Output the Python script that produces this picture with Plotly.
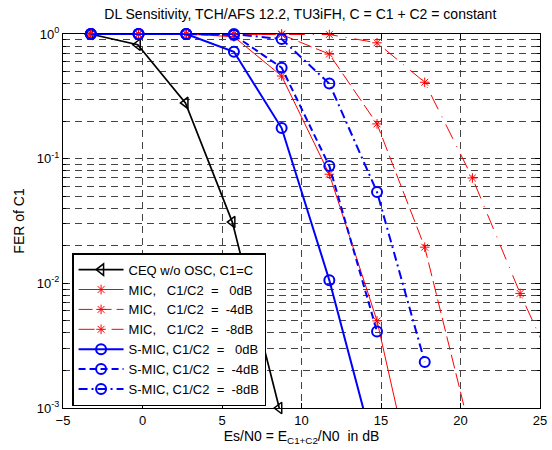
import plotly.graph_objects as go

# ---- data ----
es_n0 = [-3.25, -0.25, 2.75, 5.75, 8.75, 11.75, 14.75, 17.75, 20.75, 23.75, 26.75]
es_n0_ceq = [-3.3, -0.3, 2.7, 5.65, 8.6]

fer_ceq = [1.0, 0.82, 0.28, 0.031, 0.001]
fer_mic_0 = [1.0, 1.0, 1.0, 0.95, 0.46, 0.075, 0.005, 1.0e-4]
fer_mic_4 = [1.0, 1.0, 1.0, 1.0, 0.99, 0.69, 0.19, 0.0195, 5.5e-4]
fer_mic_8 = [1.0, 1.0, 1.0, 1.0, 1.0, 0.99, 0.85, 0.41, 0.07, 0.0083, 1.2e-3]
fer_smic_0 = [1.0, 1.0, 1.0, 0.72, 0.176, 0.0106, 3.8e-4]
fer_smic_4 = [1.0, 1.0, 1.0, 0.98, 0.537, 0.0874, 0.0041]
fer_smic_8 = [1.0, 1.0, 1.0, 1.0, 0.91, 0.40, 0.054, 0.00234]

names = [
    "CEQ w/o OSC, C1=C",
    "MIC,   C1/C2  =   0dB",
    "MIC,   C1/C2  =  -4dB",
    "MIC,   C1/C2  =  -8dB",
    "S-MIC, C1/C2  =   0dB",
    "S-MIC, C1/C2  =  -4dB",
    "S-MIC, C1/C2  =  -8dB",
]

y_tick_vals = [1e-3, 1e-2, 1e-1, 1]
y_tick_text = ["10<sup>-3</sup>", "10<sup>-2</sup>", "10<sup>-1</sup>", "10<sup>0</sup>"]
x_ticks = [-5, 0, 5, 10, 15, 20, 25]

X_MIN, X_MAX = -5, 25
Y_MIN, Y_MAX = 1e-3, 1.0


def nb(s):
    return s.replace(" ", "\u00a0")


def vis_colors(xs, ys, col):
    out = []
    for x, y in zip(xs, ys):
        inside = (X_MIN - 1e-9 <= x <= X_MAX + 1e-9) and (Y_MIN * 0.999 <= y <= Y_MAX * 1.001)
        out.append(col if inside else "rgba(0,0,0,0)")
    return out


series = [
    (es_n0_ceq, fer_ceq, names[0], "black", 1.7, "solid", "triangle-left-open", 10, 1.5),
    (es_n0, fer_mic_0, names[1], "red", 1, "solid", "asterisk-open", 8, 1),
    (es_n0, fer_mic_4, names[2], "red", 1, "14px,5px", "asterisk-open", 8, 1),
    (es_n0, fer_mic_8, names[3], "red", 1, "16px,8px,1px,8px", "asterisk-open", 8, 1),
    (es_n0, fer_smic_0, names[4], "blue", 2, "solid", "circle-open", 10, 2),
    (es_n0, fer_smic_4, names[5], "blue", 2, "7px,4px", "circle-open", 10, 2),
    (es_n0, fer_smic_8, names[6], "blue", 2, "9px,4px,2px,4px", "circle-open", 10, 2),
]

fig = go.Figure()
for xs_all, ys, name, col, lw, dash, sym, ms, mlw in series:
    xs = xs_all[:len(ys)]
    fig.add_trace(go.Scatter(
        x=xs, y=ys, name=nb(name), mode="lines+markers",
        line=dict(color=col, width=lw, dash=dash),
        marker=dict(symbol=sym, size=ms, color=vis_colors(xs, ys, col),
                    line=dict(width=mlw)),
        cliponaxis=False,
    ))

grid_col = "#444444"
font = "Liberation Sans, Arial, sans-serif"

fig.update_layout(
    width=552, height=450,
    margin=dict(l=63, r=12, t=34, b=42),
    paper_bgcolor="white", plot_bgcolor="white",
    font=dict(family=font, size=13, color="black"),
    title=dict(text="DL Sensitivity, TCH/AFS 12.2, TU3iFH, C = C1 + C2 = constant",
               x=0.544, xanchor="center", y=0.968, yanchor="middle",
               font=dict(size=14)),
    showlegend=True,
    legend=dict(x=0.019, y=0.414, xanchor="left", yanchor="top",
                bgcolor="white", bordercolor="black", borderwidth=1.5,
                font=dict(size=13), itemwidth=45, tracegroupgap=0,
                traceorder="normal"),
    xaxis=dict(range=[X_MIN, X_MAX], tickvals=x_ticks, showline=True, mirror="ticks",
               linecolor="black", linewidth=1, ticks="inside", ticklen=5,
               tickcolor="black", showgrid=True, gridcolor=grid_col, gridwidth=1,
               griddash="7px,5px", zeroline=False, automargin=False,
               tickfont=dict(size=13),
               title=dict(text="Es/N0 = E<sub>C1+C2</sub>/N0  in dB", standoff=4,
                          font=dict(size=14)),
               layer="below traces"),
    yaxis=dict(type="log", range=[-3, 0], tickvals=y_tick_vals, ticktext=y_tick_text,
               showline=True, mirror="ticks", linecolor="black", linewidth=1,
               ticks="inside", ticklen=5, tickcolor="black", automargin=False,
               tickfont=dict(size=13),
               showgrid=True, gridcolor=grid_col, gridwidth=1, griddash="7px,5px",
               zeroline=False, title=dict(text="FER of C1", standoff=8, font=dict(size=14)),
               layer="below traces",
               minor=dict(tickvals=[m * 10 ** e for e in (-3, -2, -1) for m in range(2, 10)],
                          ticks="inside", ticklen=3, tickcolor="black",
                          showgrid=True, gridcolor=grid_col, gridwidth=1,
                          griddash="7px,5px")),
)

fig.write_html("out.html", config={"displayModeBar": False},
               post_script="document.body.style.margin='0';document.body.style.padding='0';")
